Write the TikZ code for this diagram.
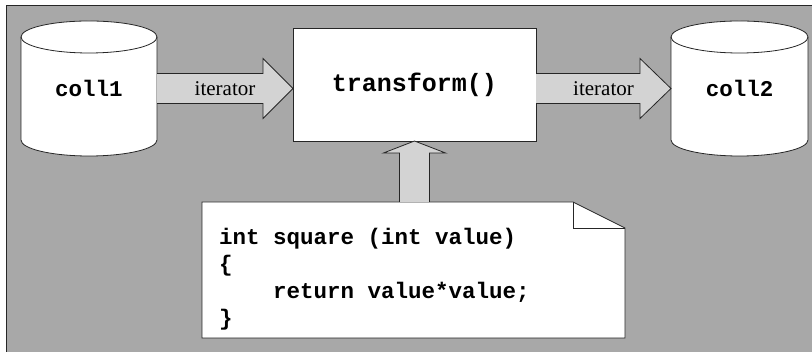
\documentclass[tikz,border=0pt]{standalone}
\usepackage{fontspec}
\setmainfont{Liberation Serif}
\setmonofont{Liberation Mono}
\usetikzlibrary{calc}
\definecolor{bggray}{RGB}{168,168,168}
\definecolor{arrowgray}{RGB}{211,211,211}

\begin{document}
\begin{tikzpicture}[x=1pt, y=1pt,
  line/.style={draw=black!85, line width=0.8pt},
  fatarrow/.style={line, fill=arrowgray},
  every node/.style={outer sep=0pt},
  label/.style={font=\fontsize{21}{25}\selectfont},
  mono/.style={font=\fontsize{22.5}{27}\selectfont\ttfamily\bfseries}]
  \path[use as bounding box, clip] (0,0) rectangle (812,352);
  \filldraw[line, fill=bggray] (6,-20) rectangle (830,347);

  % the two containers
  \foreach \cx/\r in {89/68, 739.5/68.5} {
    \filldraw[line, fill=white] (\cx-\r,315) -- (\cx-\r,212) arc (180:360:\r pt and 16pt)
      -- (\cx+\r,315) arc (0:180:\r pt and 16pt) -- cycle;
    \draw[line] (\cx-\r,315) arc (180:360:\r pt and 16pt);
  }
  \node (coll1) [mono, minimum width=136, minimum height=103] at (89, 263.5) {coll1};
  \node (coll2) [mono, minimum width=137, minimum height=103] at (739.5, 263.5) {coll2};

  \node (box) [line, fill=white, minimum width=243, minimum height=113,
    font=\fontsize{25}{30}\selectfont\ttfamily\bfseries] at (414.5, 267.5) {transform()};

  % the function as a note
  \node (note) [minimum width=423, minimum height=136] at (413.5, 82) {};
  \filldraw[line, fill=white] (note.north west) -- ([xshift=-52pt]note.north east)
    -- ([yshift=-26pt]note.north east) -- (note.south east) -- (note.south west) -- cycle;
  \draw[line] ([xshift=-52pt]note.north east) -- ([xshift=-52pt, yshift=-26pt]note.north east)
    -- ([yshift=-26pt]note.north east);
  \node (code) [mono, inner sep=0pt, anchor=west, align=left] at ([xshift=17pt, yshift=-9pt]note.west)
    {int square (int value)\\ \{\\ \hspace*{2.4em}return value*value;\\ \}};

  % arrows
  \coordinate (tip1) at (coll1.east -| box.west);
  \draw[fatarrow] ([yshift=15pt]coll1.east) -- ([xshift=-30pt, yshift=15pt]tip1)
    -- ([xshift=-30pt, yshift=30pt]tip1) -- (tip1) -- ([xshift=-30pt, yshift=-30pt]tip1)
    -- ([xshift=-30pt, yshift=-15pt]tip1) -- ([yshift=-15pt]coll1.east);
  \node (it1) [label] at ($(coll1.east)!0.5!(tip1)$) {iterator};

  \coordinate (tip2) at (coll2.west);
  \draw[fatarrow] ([yshift=15pt]tip2 -| box.east) -- ([xshift=-31pt, yshift=15pt]tip2)
    -- ([xshift=-31pt, yshift=30pt]tip2) -- (tip2) -- ([xshift=-31pt, yshift=-30pt]tip2)
    -- ([xshift=-31pt, yshift=-15pt]tip2) -- ([yshift=-15pt]tip2 -| box.east);
  \node (it2) [label] at ($(tip2 -| box.east)!0.5!(tip2)$) {iterator};

  \coordinate (tip3) at (box.south);
  \draw[fatarrow] ([xshift=-15pt]note.north -| tip3) -- ([xshift=-15pt, yshift=-12pt]tip3)
    -- ([xshift=-31pt, yshift=-12pt]tip3) -- (tip3) -- ([xshift=31pt, yshift=-12pt]tip3)
    -- ([xshift=15pt, yshift=-12pt]tip3) -- ([xshift=15pt]note.north -| tip3);
\end{tikzpicture}
\end{document}
